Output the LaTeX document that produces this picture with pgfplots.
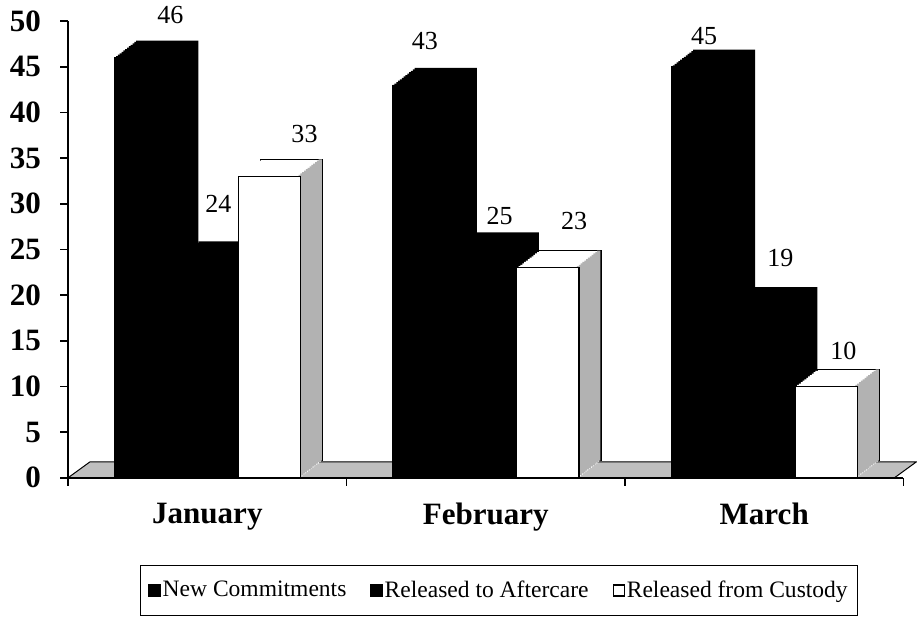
\documentclass[border=0pt]{standalone}
\usepackage{pgfplots}
\pgfplotsset{compat=1.18}
\usepackage{pgfplotstable}
\usepackage{fontspec}
\setmainfont{Liberation Serif}

% x = category, y = value, lx/ly = position of the value label (axis units)
\pgfplotstableread{
x y lx ly
0 46 -0.133 49.67
1 43 0.781 46.82
2 45 1.784 47.37
}\nc
\pgfplotstableread{
x y lx ly
0 24 0.040 28.95
1 25 1.050 27.63
2 19 2.058 23.03
}\ac
\pgfplotstableread{
x y lx ly
0 33 0.349 36.62
1 23 1.317 27.08
2 10 2.284 12.83
}\cu
\pgfplotstableread{
x y
-0.5 0
2.468 0
2.547 1.75
-0.421 1.75
}\floor

\newcommand\extrude[4]{%
  \pgfplotsinvokeforeach{12,11,...,1}{%
    \addplot[forget plot, ybar, bar width=#3, bar shift=#2, fill=#4, draw=none,
      xshift=11pt*##1/12, yshift=8.5pt*##1/12] table[x=x,y=y]{#1};
  }%
}
\newcommand\labels[1]{%
  \addplot[forget plot, draw=none, mark=none, nodes near coords,
    point meta=explicit symbolic,
    every node near coord/.append style={anchor=south, inner sep=0pt,
      font=\fontsize{13}{13}\selectfont, text=black}]
    table[x=lx, y=ly, meta=y]{#1};
}

\begin{document}
\begin{tikzpicture}
\begin{axis}[
  width=417pt, height=228pt, scale only axis,
  xmin=-0.5, xmax=2.5, ymin=0, ymax=50,
  clip=false,
  axis x line*=bottom, axis y line*=left,
  axis line style={line width=0.8pt},
  tick align=outside,
  major tick length=4pt, minor tick length=4pt,
  ytick={0,5,...,50},
  xtick={0,1,2}, xticklabels={January,February,March},
  major x tick style={draw=none},
  minor xtick={-0.5,0.5,1.5,2.5},
  minor x tick style={line width=0.8pt, black},
  major y tick style={line width=0.8pt, black},
  /pgf/number format/assume math mode=true,
  yticklabel style={font=\bfseries\fontsize{15.5}{16}\selectfont, xshift=-6pt},
  xticklabel style={font=\bfseries\fontsize{15.5}{16}\selectfont, yshift=-5pt},
  legend style={at={(0.516,-0.19)}, anchor=north, draw=black, line width=0.6pt,
    legend columns=3, font=\fontsize{11.75}{12.25}\selectfont,
    inner xsep=4pt, inner ysep=5.75pt,
    nodes={inner xsep=1pt},
    /tikz/every odd column/.append style={column sep=0pt},
    /tikz/every even column/.append style={column sep=11pt}},
  after end axis/.code={%
    \path (rel axis cs:0,1) ++(-34pt,10.5pt);
  },
]
% floor
\addplot[forget plot, fill=gray!50, draw=black, line width=0.5pt] table[x=x,y=y]{\floor} -- cycle;

% New Commitments
\extrude{\nc}{-31pt}{31pt}{black}
\addplot[ybar, bar width=31pt, bar shift=-31pt, fill=black, draw=black,
  legend image code/.code={\draw[fill=black, draw=black] (0pt,-2.75pt) rectangle (5.5pt,2.75pt);}]
  table[x=x,y=y]{\nc};
\addlegendentry{New Commitments}

% Released to Aftercare
\extrude{\ac}{0pt}{31pt}{black}
\addplot[ybar, bar width=31pt, bar shift=0pt, fill=black, draw=black,
  legend image code/.code={\draw[fill=black, draw=black] (0pt,-2.75pt) rectangle (5.5pt,2.75pt);}]
  table[x=x,y=y]{\ac};
\addlegendentry{Released to Aftercare}

% Released from Custody
\addplot[forget plot, ybar, bar width=31pt, bar shift=31pt, fill=white, draw=black, line width=0.6pt,
  xshift=11pt, yshift=8.5pt] table[x=x,y=y]{\cu};
\pgfplotsinvokeforeach{11,10,...,1}{%
  \addplot[forget plot, ybar, bar width=31pt, bar shift=31pt, fill=white, draw=none,
    xshift=11pt*#1/12, yshift=8.5pt*#1/12] table[x=x,y=y]{\cu};
}
\pgfplotsinvokeforeach{12,11,...,1}{%
  \addplot[forget plot, ybar, bar width=1.6pt, bar shift=45.4pt, fill=gray!60, draw=none,
    xshift=11pt*#1/12, yshift=8.5pt*#1/12] table[x=x,y=y]{\cu};
}
\addplot[ybar, bar width=31pt, bar shift=31pt, fill=white, draw=black, line width=0.6pt,
  legend image code/.code={\draw[fill=white, draw=black, line width=0.6pt] (0pt,-2.75pt) rectangle (5.5pt,2.75pt);}]
  table[x=x,y=y]{\cu};
\addlegendentry{Released from Custody}

% value labels
\labels{\nc}
\labels{\ac}
\labels{\cu}
\end{axis}
\end{tikzpicture}
\end{document}
